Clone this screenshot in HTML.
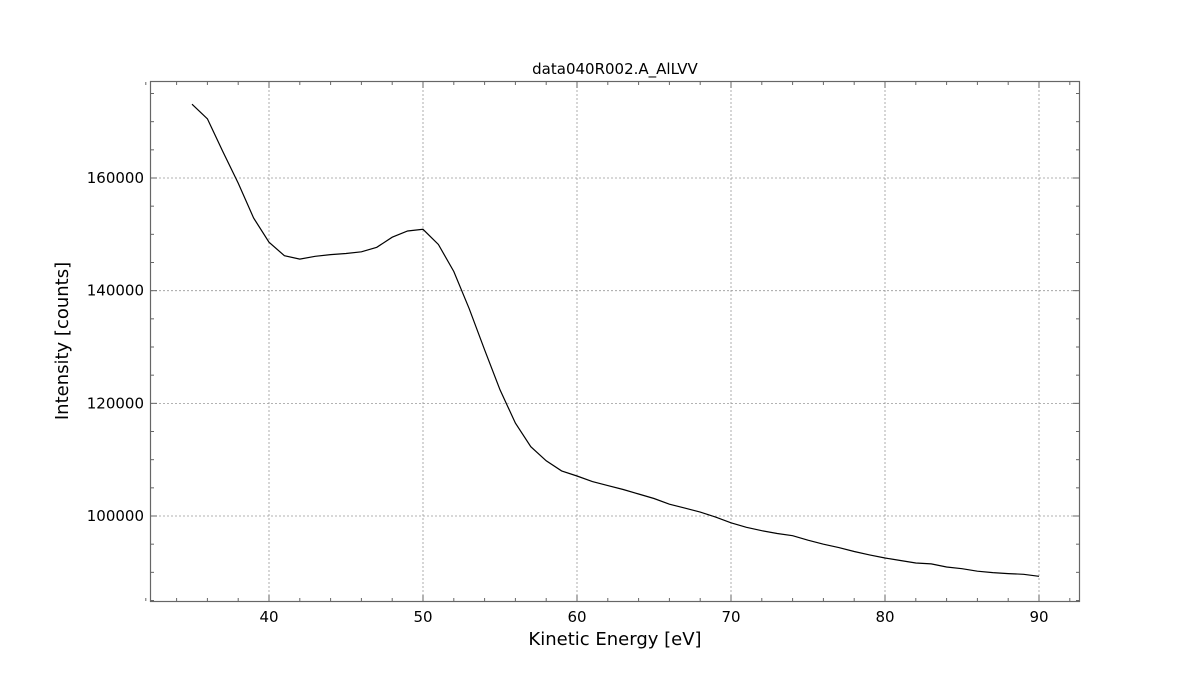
<!DOCTYPE html>
<html><head><meta charset="utf-8"><style>
body{margin:0;background:#fff;width:1200px;height:675px;overflow:hidden}
text{font-family:"DejaVu Sans","Liberation Sans",sans-serif;fill:#000}
</style></head><body>
<svg id="chart" width="1200" height="675" xmlns="http://www.w3.org/2000/svg">
<g id="grid"></g>
<g id="ticks"></g>
<path id="line" fill="none" stroke="#000" stroke-width="1.2"/>
<rect x="150.5" y="81.5" width="929" height="520" fill="none" stroke="#666" stroke-width="1.2"/>
<text x="615" y="74" text-anchor="middle" font-size="15">data040R002.A_AlLVV</text>
<text x="615" y="645" text-anchor="middle" font-size="18">Kinetic Energy [eV]</text>
<text transform="translate(68,341) rotate(-90)" text-anchor="middle" font-size="18">Intensity [counts]</text>
</svg>
<script>
const energies=[35,36,37,38,39,40,41,42,43,44,45,46,47,48,49,50,51,52,53,54,55,56,57,58,59,60,61,62,63,64,65,66,67,68,69,70,71,72,73,74,75,76,77,78,79,80,81,82,83,84,85,86,87,88,89,90];
const counts=[173100,170500,164700,159100,152900,148600,146200,145600,146100,146400,146600,146900,147700,149500,150600,150900,148200,143400,136800,129500,122400,116500,112300,109800,108000,107100,106100,105400,104700,103900,103100,102100,101400,100700,99800,98800,98000,97400,96900,96500,95700,95000,94400,93700,93100,92550,92100,91660,91500,90950,90650,90200,89950,89770,89650,89300];
const xTicks=[40,50,60,70,80,90];
const yTicks=[100000,120000,140000,160000];
const X=v=>269+(v-40)*15.4;
const Y=v=>178-(v-160000)*112.67/20000;
const ns="http://www.w3.org/2000/svg";
const grid=document.getElementById('grid'),tk=document.getElementById('ticks');
function mk(tag,attrs,parent){const e=document.createElementNS(ns,tag);for(const k in attrs)e.setAttribute(k,attrs[k]);parent.appendChild(e);return e;}
xTicks.forEach(v=>{
 const g=mk('line',{x1:X(v),x2:X(v),y1:82,y2:601,stroke:'#999','stroke-dasharray':'2,2','stroke-width':0.8},grid);
 
 
 const t=mk('text',{x:X(v),y:622,'text-anchor':'middle','font-size':15},tk);
 t.textContent=v;
 
 
});
for(let v=32;v<=92;v+=2){
 const len=v%10===0?6:3;
 mk('line',{x1:X(v),x2:X(v),y1:601,y2:601-len,stroke:'#666'},tk);
 mk('line',{x1:X(v),x2:X(v),y1:82,y2:82+len,stroke:'#666'},tk);
}
yTicks.forEach(v=>{
 const g=mk('line',{x1:151,x2:1079,y1:Y(v),y2:Y(v),stroke:'#999','stroke-dasharray':'2,2','stroke-width':0.8},grid);
 
 
 const t=mk('text',{x:144,y:Y(v)+5,'text-anchor':'end','font-size':15},tk);
 t.textContent=v;
 
 
});
for(let v=85000;v<=175000;v+=5000){
 const y=Y(v); if(y<82||y>601)continue;
 const len=v%20000===0?6:3;
 mk('line',{x1:151,x2:151+len,y1:y,y2:y,stroke:'#666'},tk);
 mk('line',{x1:1079,x2:1079-len,y1:y,y2:y,stroke:'#666'},tk);
}
document.getElementById('line').setAttribute('d',energies.map((e,i)=>(i?'L':'M')+X(e).toFixed(1)+','+Y(counts[i]).toFixed(1)).join(''));
</script>
</body></html>
